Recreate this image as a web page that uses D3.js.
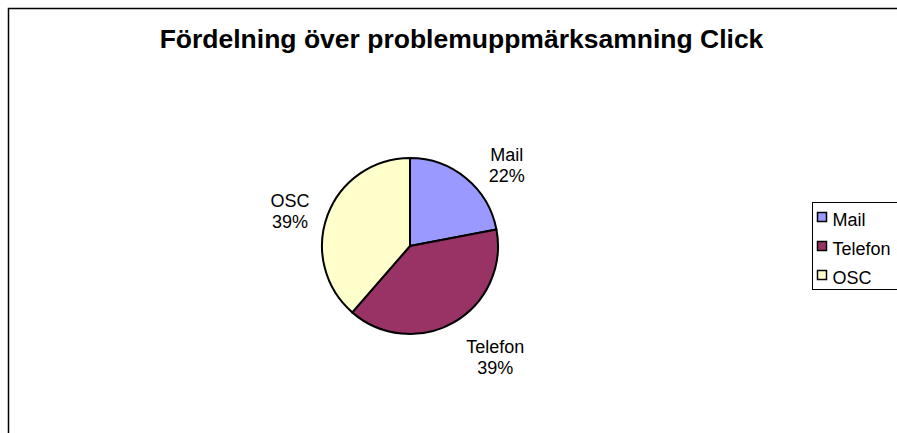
<!DOCTYPE html>
<html>
<head>
<meta charset="utf-8">
<script src="https://cdn.jsdelivr.net/npm/d3@7"></script>
<style>
  body { margin: 0; background: #fff; }
  svg { display: block; font-family: Arial, "Liberation Sans", sans-serif; }
</style>
</head>
<body>
<div id="chart"></div>
<script>
// data
var categories = ["Mail", "Telefon", "OSC"]
var values = [22, 39.4, 38.6]
var colors = ["#9999FF", "#993366", "#FFFFCC"]

var width = 897
var height = 433

var svg = d3.select("#chart")
            .append("svg")
            .attr("width", width)
            .attr("height", height)

// chart border (runs off the right and bottom)
svg.append("rect")
   .attr("x", 8.5)
   .attr("y", 8.5)
   .attr("width", 1000)
   .attr("height", 1000)
   .attr("fill", "#fff")
   .attr("stroke", "#000")
   .attr("stroke-width", 1.5)

svg.append("text")
   .attr("x", 461.5)
   .attr("y", 48)
   .attr("text-anchor", "middle")
   .attr("font-size", "26.5px")
   .attr("font-weight", "bold")
   .attr("fill", "#000")
   .text("Fördelning över problemuppmärksamning Click")

var cx = 410, cy = 246, radius = 88

var pie = d3.pie().sort(null).value(function(d) { return d })
var arcs = pie(values)
var arc = d3.arc().innerRadius(0).outerRadius(radius)

var total = d3.sum(values)

var g = svg.append("g").attr("transform", "translate(" + cx + "," + cy + ")")

g.selectAll("path")
 .data(arcs)
 .enter()
 .append("path")
 .attr("d", arc)
 .attr("fill", function(d, i) { return colors[i] })
 .attr("stroke", "#000")
 .attr("stroke-width", 2)
 .attr("stroke-linejoin", "round")

// labels outside the pie, nudged a bit like excel does
var labelArc = d3.arc().innerRadius(125).outerRadius(125)
var labelNudge = [[17, 15], [23, 3], [-3, 9]]

var labels = g.selectAll("g.lbl")
              .data(arcs)
              .enter()
              .append("g")
              .attr("class", "lbl")
              .attr("transform", function(d, i) {
                var c = labelArc.centroid(d)
                return "translate(" + (c[0] + labelNudge[i][0]) + "," + (c[1] + labelNudge[i][1]) + ")"
              })

labels.append("text")
      .attr("text-anchor", "middle")
      .attr("y", -4)
      .attr("font-size", "18px")
      .text(function(d, i) { return categories[i] })

labels.append("text")
      .attr("text-anchor", "middle")
      .attr("y", 17)
      .attr("font-size", "18px")
      .text(function(d) { return Math.round(d.value / total * 100) + "%" })

// legend
var legend = svg.append("g").attr("transform", "translate(812.5,202.5)")

legend.append("rect")
      .attr("width", 200)
      .attr("height", 87)
      .attr("fill", "#fff")
      .attr("stroke", "#000")
      .attr("stroke-width", 1)

var items = legend.selectAll("g.item")
                  .data(categories)
                  .enter()
                  .append("g")
                  .attr("class", "item")
                  .attr("transform", function(d, i) { return "translate(5," + (14.5 + i * 29) + ")" })

items.append("rect")
     .attr("x", 0)
     .attr("y", -4.5)
     .attr("width", 9)
     .attr("height", 9)
     .attr("fill", function(d, i) { return colors[i] })
     .attr("stroke", "#000")
     .attr("stroke-width", 1.5)

items.append("text")
     .attr("x", 15)
     .attr("y", 9)
     .attr("font-size", "18px")
     .text(function(d) { return d })
</script>
</body>
</html>
